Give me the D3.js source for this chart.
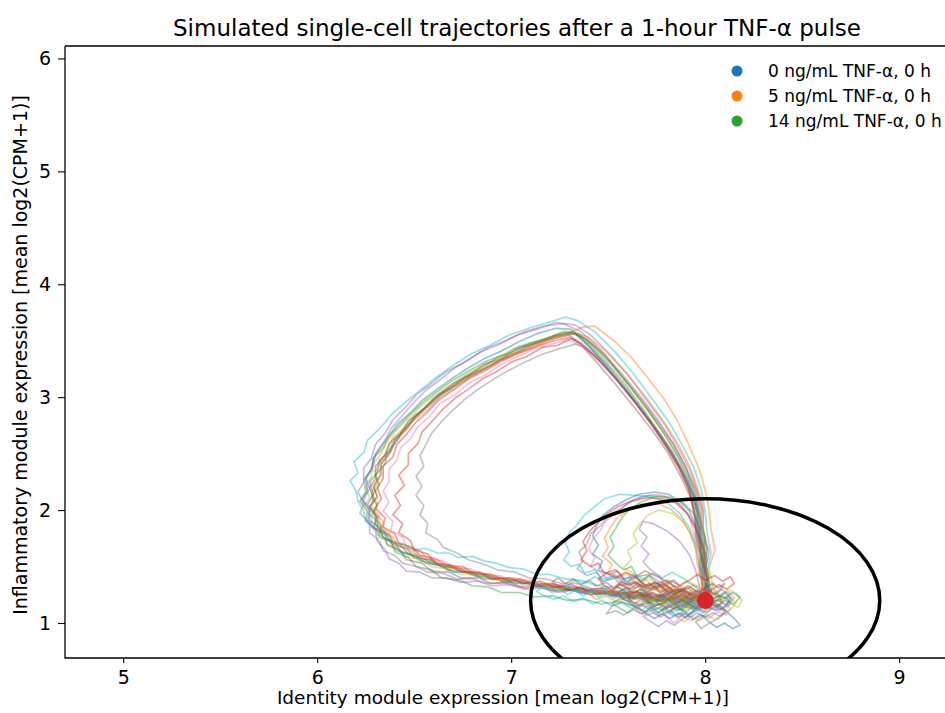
<!DOCTYPE html>
<html>
<head>
<meta charset="utf-8">
<script src="https://cdn.jsdelivr.net/npm/d3@7"></script>
<style>
  body { margin: 0; background: #fff; }
  text { font-family: "DejaVu Sans", sans-serif; fill: #000; }
</style>
</head>
<body>
<svg id="chart"></svg>
<script>
var titleText = "Simulated single-cell trajectories after a 1-hour TNF-\u03b1 pulse";
var xLabel = "Identity module expression [mean log2(CPM+1)]";
var yLabel = "Inflammatory module expression [mean log2(CPM+1)]";

var xTicks = [5, 6, 7, 8, 9];
var yTicks = [1, 2, 3, 4, 5, 6];

var legendLabels = ["0 ng/mL TNF-\u03b1, 0 h", "5 ng/mL TNF-\u03b1, 0 h", "14 ng/mL TNF-\u03b1, 0 h"];
var legendColors = ["#1f77b4", "#ff7f0e", "#2ca02c"];

var lineColors = ["#1f77b4", "#ff7f0e", "#2ca02c", "#d62728", "#9467bd", "#8c564b", "#e377c2", "#7f7f7f", "#bcbd22", "#17becf"];

// attractor (red dot) and basin circle, data units
var restState = [8.0, 1.2];
var basinRadius = 0.9;

// cells that take the big excursion
var bigLoopCells = [
  "8.01,1.19 8.03,1.28 7.99,1.40 8.01,1.56 7.98,1.73 7.97,1.91 7.95,2.08 7.91,2.26 7.85,2.45 7.78,2.64 7.69,2.85 7.60,3.06 7.50,3.27 7.40,3.45 7.33,3.56 7.26,3.55 7.17,3.51 7.07,3.44 6.99,3.36 6.90,3.29 6.81,3.20 6.73,3.12 6.64,3.02 6.58,2.93 6.51,2.83 6.46,2.72 6.40,2.63 6.37,2.52 6.32,2.44 6.31,2.33 6.27,2.25 6.29,2.14 6.26,2.05 6.30,1.97 6.30,1.88 6.35,1.81 6.37,1.74 6.43,1.69 6.47,1.61 6.54,1.58 6.60,1.52 6.68,1.50 6.75,1.45 6.83,1.44 6.90,1.39 6.99,1.39 7.06,1.35 7.15,1.35 7.22,1.31 7.31,1.32 7.39,1.28 7.47,1.29 7.55,1.25 7.63,1.27 7.71,1.22 7.79,1.24 7.86,1.19 7.93,1.22 7.99,1.18",
  "8.00,1.22 8.04,1.33 8.02,1.48 8.05,1.65 8.03,1.83 8.02,2.00 8.00,2.18 7.97,2.36 7.92,2.56 7.86,2.78 7.79,2.98 7.70,3.18 7.62,3.35 7.53,3.50 7.43,3.63 7.37,3.62 7.28,3.56 7.18,3.50 7.09,3.43 6.98,3.37 6.90,3.28 6.80,3.21 6.72,3.11 6.63,3.03 6.57,2.92 6.50,2.84 6.45,2.73 6.39,2.64 6.36,2.53 6.33,2.44 6.30,2.34 6.31,2.24 6.28,2.15 6.31,2.06 6.29,1.98 6.34,1.90 6.33,1.82 6.39,1.76 6.42,1.68 6.49,1.65 6.53,1.57 6.61,1.55 6.67,1.49 6.76,1.48 6.82,1.42 6.91,1.42 6.98,1.37 7.07,1.38 7.14,1.33 7.23,1.34 7.30,1.29 7.39,1.31 7.46,1.26 7.55,1.28 7.62,1.23 7.71,1.25 7.78,1.20 7.87,1.23 7.94,1.18",
  "7.99,1.17 8.01,1.30 7.98,1.45 7.99,1.62 7.96,1.80 7.96,1.98 7.93,2.15 7.89,2.33 7.83,2.52 7.75,2.72 7.67,2.92 7.58,3.13 7.48,3.33 7.39,3.49 7.32,3.58 7.24,3.56 7.14,3.50 7.04,3.45 6.95,3.37 6.86,3.31 6.77,3.22 6.69,3.14 6.61,3.04 6.55,2.96 6.48,2.85 6.43,2.76 6.37,2.65 6.34,2.55 6.29,2.46 6.28,2.35 6.24,2.27 6.25,2.16 6.22,2.08 6.26,1.99 6.25,1.91 6.30,1.84 6.32,1.76 6.38,1.72 6.41,1.64 6.48,1.61 6.53,1.55 6.61,1.53 6.67,1.47 6.76,1.46 6.82,1.41 6.90,1.41 6.97,1.36 7.06,1.37 7.13,1.32 7.21,1.33 7.29,1.29 7.37,1.30 7.45,1.25 7.53,1.27 7.61,1.22 7.70,1.24 7.78,1.19 7.87,1.22 7.95,1.17",
  "8.00,1.21 7.98,1.32 8.00,1.47 7.97,1.64 7.97,1.82 7.94,1.99 7.92,2.16 7.87,2.35 7.81,2.53 7.73,2.74 7.64,2.95 7.55,3.15 7.45,3.33 7.36,3.47 7.30,3.53 7.22,3.50 7.13,3.45 7.03,3.38 6.94,3.31 6.86,3.23 6.78,3.16 6.70,3.06 6.63,2.98 6.57,2.87 6.51,2.78 6.46,2.67 6.41,2.58 6.39,2.47 6.34,2.39 6.34,2.28 6.31,2.20 6.33,2.10 6.30,2.02 6.35,1.93 6.34,1.85 6.40,1.79 6.42,1.71 6.49,1.67 6.53,1.60 6.61,1.57 6.67,1.51 6.75,1.50 6.81,1.44 6.90,1.43 6.97,1.38 7.05,1.39 7.12,1.34 7.21,1.35 7.28,1.30 7.36,1.31 7.44,1.27 7.53,1.28 7.61,1.23 7.69,1.25 7.77,1.20 7.85,1.22 7.93,1.19",
  "8.01,1.20 8.02,1.31 8.00,1.46 8.02,1.63 7.99,1.81 7.99,1.99 7.96,2.17 7.92,2.36 7.86,2.56 7.79,2.76 7.70,2.97 7.61,3.18 7.51,3.38 7.41,3.55 7.33,3.64 7.23,3.66 7.13,3.60 7.03,3.55 6.93,3.46 6.84,3.40 6.75,3.30 6.66,3.22 6.58,3.11 6.51,3.02 6.45,2.90 6.39,2.80 6.35,2.68 6.30,2.58 6.28,2.46 6.24,2.37 6.24,2.25 6.21,2.16 6.24,2.06 6.22,1.97 6.27,1.89 6.27,1.80 6.32,1.73 6.34,1.64 6.40,1.60 6.44,1.53 6.51,1.50 6.57,1.45 6.65,1.44 6.72,1.39 6.80,1.39 6.88,1.35 6.96,1.36 7.04,1.32 7.12,1.33 7.20,1.29 7.29,1.30 7.37,1.26 7.46,1.28 7.54,1.23 7.63,1.25 7.71,1.21 7.80,1.23 7.88,1.19 7.96,1.21",
  "7.99,1.19 8.00,1.29 7.97,1.43 7.98,1.60 7.95,1.78 7.95,1.95 7.92,2.13 7.87,2.31 7.81,2.50 7.73,2.70 7.63,2.92 7.53,3.13 7.43,3.33 7.35,3.48 7.30,3.55 7.22,3.52 7.12,3.47 7.03,3.39 6.94,3.33 6.85,3.24 6.76,3.17 6.68,3.07 6.60,2.99 6.54,2.88 6.47,2.79 6.43,2.68 6.37,2.59 6.35,2.48 6.30,2.39 6.30,2.28 6.27,2.20 6.29,2.10 6.27,2.01 6.31,1.93 6.31,1.84 6.37,1.78 6.39,1.70 6.46,1.66 6.50,1.58 6.58,1.56 6.64,1.50 6.73,1.49 6.79,1.43 6.88,1.43 6.95,1.37 7.04,1.38 7.11,1.33 7.20,1.34 7.27,1.29 7.36,1.31 7.43,1.26 7.52,1.28 7.60,1.23 7.69,1.25 7.76,1.20 7.85,1.23 7.93,1.18",
  "8.00,1.18 8.02,1.30 7.99,1.44 8.00,1.61 7.97,1.79 7.97,1.97 7.94,2.14 7.89,2.32 7.83,2.51 7.75,2.71 7.66,2.92 7.56,3.12 7.46,3.31 7.37,3.45 7.29,3.51 7.21,3.47 7.12,3.43 7.02,3.35 6.94,3.28 6.86,3.19 6.78,3.12 6.71,3.02 6.63,2.94 6.58,2.83 6.52,2.74 6.48,2.63 6.43,2.55 6.41,2.44 6.37,2.36 6.37,2.25 6.34,2.17 6.37,2.07 6.34,1.99 6.39,1.90 6.38,1.82 6.44,1.76 6.46,1.68 6.53,1.64 6.57,1.57 6.65,1.55 6.71,1.49 6.79,1.48 6.86,1.42 6.94,1.42 7.01,1.37 7.10,1.38 7.17,1.33 7.26,1.34 7.33,1.29 7.42,1.30 7.50,1.26 7.58,1.27 7.66,1.22 7.75,1.24 7.83,1.20 7.91,1.22 7.98,1.19",
  "7.99,1.21 8.01,1.33 7.98,1.48 7.99,1.65 7.96,1.83 7.95,2.00 7.92,2.18 7.87,2.37 7.80,2.56 7.72,2.77 7.63,2.97 7.54,3.17 7.45,3.34 7.38,3.44 7.33,3.47 7.25,3.43 7.16,3.38 7.07,3.31 6.99,3.24 6.91,3.16 6.83,3.07 6.76,2.98 6.69,2.87 6.64,2.78 6.59,2.68 6.56,2.58 6.53,2.48 6.55,2.39 6.51,2.30 6.54,2.21 6.51,2.13 6.55,2.04 6.53,1.96 6.57,1.88 6.56,1.80 6.62,1.74 6.65,1.67 6.72,1.62 6.78,1.56 6.86,1.52 6.93,1.47 7.02,1.45 7.09,1.40 7.18,1.39 7.26,1.35 7.34,1.35 7.42,1.30 7.51,1.31 7.59,1.26 7.68,1.27 7.76,1.22 7.84,1.24 7.92,1.20",
  "8.00,1.20 8.01,1.31 7.98,1.46 8.00,1.63 7.97,1.81 7.97,1.98 7.95,2.16 7.90,2.35 7.84,2.54 7.76,2.75 7.67,2.96 7.58,3.16 7.48,3.36 7.39,3.51 7.32,3.58 7.23,3.55 7.13,3.49 7.03,3.43 6.94,3.35 6.85,3.28 6.76,3.19 6.68,3.10 6.60,3.01 6.53,2.91 6.47,2.81 6.41,2.71 6.36,2.61 6.33,2.50 6.29,2.41 6.28,2.30 6.25,2.21 6.27,2.11 6.24,2.03 6.28,1.94 6.28,1.85 6.33,1.79 6.36,1.70 6.42,1.66 6.46,1.59 6.54,1.56 6.59,1.50 6.68,1.48 6.74,1.43 6.83,1.43 6.90,1.38 6.99,1.38 7.06,1.34 7.15,1.35 7.22,1.30 7.31,1.31 7.39,1.27 7.47,1.28 7.56,1.24 7.64,1.26 7.72,1.21 7.81,1.23 7.89,1.19 7.97,1.21",
  "8.02,1.19 8.03,1.30 8.01,1.45 8.03,1.62 8.01,1.80 8.00,1.99 7.98,2.18 7.94,2.38 7.88,2.58 7.81,2.79 7.72,3.00 7.63,3.21 7.53,3.41 7.43,3.58 7.34,3.68 7.28,3.71 7.19,3.66 7.09,3.61 6.99,3.55 6.89,3.46 6.79,3.38 6.70,3.28 6.61,3.17 6.53,3.06 6.45,2.95 6.38,2.84 6.32,2.72 6.26,2.62 6.24,2.51 6.19,2.43 6.21,2.33 6.17,2.26 6.20,2.17 6.21,2.08 6.24,1.99 6.25,1.90 6.30,1.83 6.35,1.79 6.38,1.71 6.44,1.70 6.50,1.65 6.56,1.66 6.62,1.62 6.68,1.62 6.73,1.58 6.80,1.59 6.86,1.55 6.92,1.53 6.99,1.49 7.06,1.48 7.13,1.43 7.20,1.43 7.28,1.39 7.36,1.38 7.44,1.33 7.53,1.32 7.61,1.28 7.70,1.27 7.78,1.23 7.86,1.24 7.94,1.20",
  "8.00,1.17 8.02,1.29 7.98,1.43 8.00,1.60 7.97,1.78 7.96,1.96 7.94,2.13 7.89,2.31 7.83,2.50 7.75,2.70 7.66,2.91 7.56,3.12 7.47,3.32 7.38,3.49 7.31,3.60 7.23,3.61 7.13,3.56 7.04,3.49 6.95,3.41 6.86,3.34 6.77,3.25 6.69,3.16 6.61,3.06 6.54,2.97 6.48,2.86 6.42,2.77 6.37,2.66 6.33,2.56 6.29,2.46 6.28,2.36 6.25,2.27 6.26,2.17 6.23,2.09 6.27,2.00 6.27,1.91 6.32,1.84 6.34,1.76 6.40,1.71 6.43,1.63 6.51,1.59 6.56,1.53 6.64,1.51 6.70,1.45 6.79,1.45 6.86,1.39 6.95,1.40 7.02,1.35 7.11,1.36 7.18,1.31 7.27,1.32 7.35,1.27 7.43,1.29 7.51,1.24 7.60,1.26 7.68,1.21 7.77,1.23 7.85,1.18 7.93,1.21",
  "7.99,1.22 8.01,1.34 7.99,1.49 8.01,1.66 7.99,1.84 7.99,2.02 7.96,2.20 7.92,2.39 7.86,2.59 7.78,2.80 7.69,3.01 7.59,3.22 7.49,3.40 7.40,3.53 7.33,3.57 7.24,3.53 7.15,3.47 7.05,3.40 6.96,3.34 6.87,3.25 6.79,3.18 6.71,3.08 6.63,3.00 6.57,2.89 6.50,2.80 6.45,2.69 6.40,2.60 6.37,2.49 6.33,2.41 6.32,2.30 6.29,2.22 6.31,2.12 6.28,2.04 6.32,1.95 6.32,1.87 6.37,1.80 6.39,1.72 6.46,1.68 6.50,1.61 6.57,1.58 6.63,1.52 6.71,1.50 6.78,1.45 6.86,1.44 6.93,1.39 7.02,1.40 7.09,1.35 7.18,1.35 7.25,1.31 7.34,1.32 7.42,1.27 7.50,1.29 7.58,1.24 7.67,1.26 7.75,1.21 7.84,1.23 7.92,1.19",
  "8.02,1.16 8.00,1.28 8.02,1.42 7.99,1.58 8.00,1.76 7.97,1.94 7.95,2.11 7.91,2.29 7.86,2.47 7.79,2.67 7.71,2.87 7.62,3.08 7.52,3.29 7.42,3.46 7.35,3.56 7.27,3.58 7.19,3.52 7.10,3.48 7.01,3.40 6.93,3.35 6.84,3.25 6.77,3.19 6.68,3.08 6.62,3.01 6.55,2.90 6.50,2.82 6.44,2.70 6.41,2.61 6.36,2.50 6.35,2.41 6.30,2.31 6.32,2.22 6.28,2.12 6.31,2.04 6.28,1.95 6.33,1.87 6.32,1.78 6.38,1.72 6.40,1.63 6.47,1.58 6.51,1.50 6.59,1.47 6.64,1.40 6.73,1.38 6.80,1.33 6.88,1.32 6.95,1.27 7.04,1.27 7.12,1.23 7.21,1.24 7.29,1.20 7.38,1.21 7.46,1.17 7.55,1.19 7.63,1.15 7.72,1.18 7.80,1.14 7.88,1.18 7.96,1.15",
  "7.99,1.23 8.00,1.36 7.97,1.51 7.98,1.68 7.95,1.85 7.94,2.03 7.91,2.21 7.86,2.40 7.79,2.60 7.71,2.80 7.62,3.00 7.52,3.20 7.43,3.37 7.36,3.48 7.31,3.52 7.24,3.46 7.16,3.44 7.08,3.36 7.00,3.31 6.92,3.22 6.85,3.16 6.77,3.06 6.71,2.99 6.64,2.88 6.60,2.80 6.54,2.69 6.52,2.59 6.47,2.50 6.47,2.40 6.42,2.31 6.45,2.22 6.40,2.13 6.43,2.04 6.39,1.96 6.44,1.88 6.42,1.80 6.48,1.73 6.50,1.65 6.57,1.61 6.61,1.53 6.69,1.51 6.75,1.45 6.84,1.45 6.90,1.39 6.99,1.40 7.06,1.35 7.15,1.37 7.22,1.32 7.31,1.34 7.38,1.29 7.47,1.31 7.55,1.26 7.64,1.28 7.72,1.23 7.81,1.25 7.89,1.21 7.96,1.23",
  "8.00,1.19 8.01,1.32 7.99,1.47 8.00,1.64 7.98,1.82 7.97,2.00 7.94,2.19 7.90,2.38 7.84,2.58 7.76,2.79 7.67,3.00 7.57,3.21 7.46,3.42 7.36,3.58 7.27,3.65 7.17,3.63 7.07,3.58 6.97,3.50 6.88,3.44 6.79,3.34 6.71,3.26 6.63,3.15 6.56,3.06 6.49,2.94 6.44,2.84 6.38,2.72 6.35,2.62 6.30,2.50 6.29,2.40 6.25,2.29 6.27,2.19 6.24,2.09 6.27,2.00 6.26,1.90 6.30,1.82 6.31,1.72 6.35,1.65 6.37,1.57 6.42,1.53 6.46,1.46 6.53,1.45 6.59,1.40 6.67,1.40 6.74,1.36 6.83,1.37 6.90,1.33 6.99,1.34 7.07,1.30 7.16,1.31 7.24,1.27 7.33,1.29 7.41,1.25 7.50,1.27 7.58,1.22 7.67,1.25 7.75,1.20 7.84,1.23 7.92,1.19",
  "8.01,1.21 8.02,1.33 8.00,1.48 8.01,1.65 7.98,1.83 7.98,2.01 7.95,2.19 7.90,2.38 7.84,2.57 7.76,2.77 7.67,2.98 7.57,3.19 7.48,3.38 7.39,3.51 7.31,3.57 7.22,3.54 7.13,3.48 7.03,3.43 6.95,3.34 6.86,3.29 6.78,3.19 6.70,3.12 6.62,3.01 6.57,2.93 6.50,2.81 6.46,2.73 6.40,2.61 6.38,2.52 6.33,2.41 6.33,2.31 6.29,2.21 6.31,2.12 6.27,2.03 6.31,1.94 6.29,1.85 6.35,1.78 6.36,1.69 6.43,1.64 6.46,1.56 6.54,1.53 6.59,1.46 6.68,1.45 6.74,1.40 6.83,1.40 6.90,1.35 6.99,1.36 7.07,1.31 7.16,1.33 7.24,1.28 7.33,1.30 7.41,1.25 7.50,1.27 7.58,1.22 7.67,1.24 7.75,1.19 7.84,1.22 7.92,1.18"
];

// cells that only make a small loop near the basin
var smallLoopCells = [
  "7.98,1.24 7.99,1.36 7.97,1.50 7.96,1.65 7.94,1.80 7.92,1.93 7.88,2.04 7.82,2.11 7.75,2.14 7.67,2.12 7.60,2.06 7.55,1.98 7.49,1.91 7.46,1.82 7.42,1.74 7.40,1.65 7.43,1.58 7.41,1.50 7.46,1.45 7.50,1.38 7.56,1.41 7.60,1.34 7.66,1.37 7.70,1.30 7.76,1.33 7.81,1.26 7.87,1.28 7.92,1.22 7.97,1.25",
  "8.00,1.23 7.98,1.37 7.99,1.52 7.96,1.68 7.95,1.83 7.91,1.96 7.86,2.06 7.79,2.12 7.71,2.13 7.63,2.09 7.57,2.02 7.50,1.95 7.46,1.86 7.41,1.79 7.39,1.70 7.35,1.63 7.37,1.55 7.34,1.48 7.39,1.42 7.44,1.45 7.47,1.37 7.53,1.40 7.57,1.33 7.63,1.36 7.68,1.29 7.74,1.32 7.80,1.26 7.86,1.29 7.91,1.22 7.96,1.24",
  "7.99,1.20 8.00,1.34 7.98,1.49 7.97,1.64 7.93,1.78 7.89,1.89 7.83,1.97 7.76,2.00 7.70,1.95 7.66,1.87 7.63,1.79 7.65,1.71 7.60,1.64 7.62,1.56 7.58,1.49 7.63,1.44 7.66,1.37 7.71,1.40 7.75,1.32 7.80,1.35 7.84,1.27 7.90,1.29 7.95,1.22",
  "7.98,1.22 8.00,1.36 7.97,1.52 7.95,1.68 7.92,1.84 7.87,1.97 7.80,2.07 7.72,2.12 7.64,2.13 7.56,2.14 7.48,2.10 7.43,2.03 7.38,1.96 7.34,1.87 7.30,1.80 7.28,1.71 7.30,1.63 7.27,1.56 7.31,1.50 7.35,1.52 7.38,1.44 7.43,1.47 7.47,1.39 7.53,1.42 7.58,1.35 7.64,1.37 7.70,1.30 7.76,1.33 7.82,1.25 7.88,1.28 7.94,1.22",
  "8.00,1.25 8.01,1.39 7.98,1.55 7.98,1.71 7.95,1.86 7.92,1.99 7.87,2.08 7.81,2.14 7.74,2.16 7.66,2.14 7.59,2.09 7.53,2.03 7.47,1.95 7.44,1.86 7.42,1.77 7.45,1.69 7.42,1.61 7.47,1.55 7.45,1.47 7.51,1.43 7.55,1.46 7.59,1.37 7.65,1.40 7.70,1.32 7.76,1.35 7.82,1.27 7.88,1.30 7.94,1.23",
  "7.97,1.21 7.99,1.35 7.96,1.51 7.95,1.66 7.92,1.80 7.88,1.92 7.82,2.01 7.75,2.06 7.67,2.05 7.60,2.00 7.54,1.92 7.51,1.84 7.48,1.75 7.50,1.67 7.47,1.59 7.52,1.52 7.50,1.45 7.56,1.41 7.60,1.44 7.64,1.35 7.70,1.38 7.74,1.30 7.80,1.33 7.85,1.25 7.91,1.27 7.96,1.21",
  "8.01,1.22 8.02,1.37 8.00,1.53 7.99,1.69 7.97,1.84 7.94,1.97 7.89,2.06 7.82,2.11 7.74,2.12 7.67,2.07 7.61,2.01 7.57,1.93 7.54,1.84 7.51,1.76 7.53,1.68 7.50,1.60 7.54,1.53 7.58,1.47 7.62,1.50 7.65,1.41 7.71,1.43 7.75,1.35 7.81,1.38 7.85,1.29 7.91,1.31 7.96,1.24",
  "7.99,1.24 8.01,1.39 7.99,1.55 7.97,1.70 7.95,1.85 7.91,1.97 7.85,2.06 7.78,2.10 7.70,2.11 7.62,2.08 7.55,2.03 7.49,1.96 7.44,1.88 7.40,1.80 7.37,1.72 7.39,1.64 7.36,1.56 7.41,1.50 7.45,1.53 7.48,1.44 7.54,1.47 7.58,1.39 7.64,1.41 7.69,1.33 7.75,1.36 7.80,1.28 7.86,1.30 7.92,1.23 7.97,1.26",
  "7.98,1.20 7.97,1.33 7.95,1.47 7.92,1.60 7.87,1.72 7.80,1.82 7.73,1.88 7.68,1.90 7.66,1.83 7.70,1.76 7.67,1.68 7.71,1.61 7.68,1.54 7.72,1.47 7.76,1.42 7.79,1.35 7.84,1.38 7.88,1.30 7.93,1.26"
];

// cells that stay near the rest state
var restingCells = [
  "7.98,1.21 7.93,1.26 7.88,1.22 7.83,1.28 7.79,1.24 7.74,1.30 7.70,1.27 7.66,1.33 7.62,1.29 7.57,1.35 7.53,1.31 7.49,1.36 7.44,1.33 7.40,1.38 7.36,1.34 7.32,1.39 7.28,1.35 7.24,1.40 7.21,1.36 7.26,1.32 7.31,1.29 7.36,1.32 7.41,1.27 7.47,1.29 7.52,1.24 7.58,1.27 7.64,1.21 7.70,1.24 7.76,1.19 7.82,1.22 7.88,1.17 7.94,1.20 8.00,1.16",
  "8.01,1.19 8.05,1.14 8.09,1.19 8.13,1.13 8.11,1.07 8.06,1.10 8.02,1.04 7.97,1.08 7.93,1.02 7.88,1.06 7.84,1.00 7.80,1.05 7.78,1.11 7.83,1.15 7.79,1.20 7.84,1.24 7.89,1.21 7.94,1.26 7.98,1.22 8.03,1.27 8.07,1.23 8.12,1.28 8.15,1.22 8.11,1.17 8.06,1.20 8.02,1.15 7.97,1.18",
  "7.99,1.18 7.95,1.13 7.90,1.17 7.86,1.11 7.81,1.15 7.76,1.09 7.72,1.13 7.67,1.08 7.63,1.12 7.58,1.07 7.54,1.11 7.49,1.08 7.52,1.15 7.57,1.19 7.62,1.16 7.67,1.21 7.72,1.18 7.77,1.23 7.82,1.20 7.87,1.25 7.92,1.21 7.97,1.26 8.02,1.22 8.06,1.16 8.10,1.10 8.07,1.04 8.02,1.00 7.98,0.95 7.95,1.01 7.99,1.06 8.03,1.12",
  "8.00,1.22 8.04,1.28 8.08,1.24 8.12,1.30 8.16,1.26 8.19,1.20 8.17,1.14 8.13,1.17 8.09,1.11 8.05,1.15 8.01,1.09 7.96,1.13 7.91,1.08 7.87,1.13 7.83,1.18 7.78,1.15 7.74,1.21 7.69,1.18 7.65,1.24 7.61,1.21 7.56,1.27 7.60,1.32 7.65,1.28 7.70,1.34 7.75,1.30 7.80,1.36 7.85,1.31 7.90,1.37 7.95,1.32 8.00,1.37 8.05,1.33",
  "7.97,1.23 7.92,1.19 7.87,1.24 7.82,1.19 7.77,1.25 7.72,1.21 7.67,1.27 7.62,1.23 7.57,1.29 7.52,1.25 7.47,1.31 7.42,1.27 7.37,1.32 7.33,1.28 7.29,1.33 7.33,1.38 7.38,1.35 7.43,1.41 7.48,1.37 7.53,1.42 7.58,1.38 7.63,1.43 7.68,1.39 7.73,1.44 7.78,1.40 7.83,1.45 7.88,1.40 7.93,1.35 7.97,1.29",
  "8.02,1.20 8.07,1.16 8.11,1.10 8.15,1.04 8.18,0.98 8.14,0.95 8.10,1.00 8.06,0.96 8.02,1.01 7.98,1.07 7.94,1.03 7.90,1.09 7.86,1.05 7.82,1.11 7.87,1.16 7.92,1.13 7.96,1.18 8.00,1.14 8.04,1.19",
  "7.98,1.20 7.94,1.24 7.90,1.20 7.86,1.25 7.82,1.21 7.78,1.26 7.73,1.22 7.69,1.27 7.65,1.23 7.61,1.28 7.57,1.24 7.53,1.29 7.48,1.25 7.44,1.30 7.40,1.26 7.44,1.21 7.49,1.24 7.54,1.19 7.59,1.22 7.64,1.17 7.69,1.20 7.74,1.15 7.79,1.18 7.84,1.13 7.89,1.17 7.94,1.12 7.99,1.16 8.04,1.12",
  "8.01,1.21 8.05,1.26 8.10,1.22 8.14,1.27 8.18,1.23 8.15,1.17 8.10,1.20 8.06,1.15 8.01,1.18 7.96,1.13 7.92,1.17 7.87,1.12 7.83,1.16 7.78,1.11 7.73,1.15 7.69,1.10 7.64,1.14 7.60,1.09 7.56,1.13 7.52,1.17 7.56,1.22 7.61,1.19 7.66,1.24 7.71,1.20 7.76,1.25 7.81,1.22 7.86,1.27 7.91,1.23 7.96,1.27",
  "7.99,1.23 8.03,1.29 8.07,1.34 8.11,1.30 8.15,1.35 8.13,1.41 8.09,1.37 8.05,1.42 8.00,1.38 7.96,1.43 7.92,1.38 7.87,1.33 7.83,1.37 7.78,1.32 7.74,1.36 7.69,1.31 7.65,1.35 7.61,1.30 7.56,1.34 7.52,1.29 7.48,1.33 7.45,1.39 7.49,1.44 7.54,1.40 7.59,1.45 7.64,1.41 7.69,1.46 7.74,1.42 7.79,1.38 7.84,1.33 7.89,1.28 7.94,1.24",
  "8.00,1.18 7.96,1.14 7.92,1.08 7.88,1.03 7.84,0.98 7.80,1.02 7.76,0.97 7.72,1.01 7.68,1.06 7.73,1.09 7.77,1.05 7.81,1.10 7.86,1.14 7.90,1.10 7.95,1.15 7.99,1.11 8.04,1.16 8.08,1.12 8.13,1.17 8.11,1.23 8.06,1.19 8.02,1.24 7.97,1.20",
  "7.98,1.22 7.95,1.27 7.91,1.23 7.88,1.29 7.84,1.25 7.81,1.31 7.77,1.27 7.74,1.32 7.70,1.28 7.67,1.23 7.71,1.19 7.75,1.23 7.78,1.18 7.82,1.22 7.85,1.17 7.89,1.21 7.92,1.16 7.96,1.20 7.99,1.15 8.03,1.19 8.06,1.14 8.09,1.18 8.07,1.24 8.03,1.21 8.00,1.26",
  "8.01,1.18 7.97,1.15 7.94,1.19 7.90,1.14 7.86,1.18 7.83,1.13 7.79,1.17 7.75,1.12 7.71,1.16 7.67,1.11 7.63,1.15 7.60,1.20 7.64,1.24 7.68,1.20 7.72,1.25 7.76,1.21 7.80,1.26 7.84,1.22 7.88,1.27 7.92,1.23 7.96,1.28 8.00,1.24",
  "7.99,1.21 8.03,1.17 8.07,1.21 8.10,1.16 8.14,1.20 8.12,1.26 8.08,1.30 8.04,1.26 8.00,1.31 7.96,1.27 7.92,1.32 7.88,1.28 7.84,1.33 7.80,1.29 7.76,1.34 7.72,1.30 7.68,1.35 7.64,1.31 7.60,1.36 7.63,1.41 7.67,1.37 7.71,1.42 7.75,1.38 7.79,1.34 7.83,1.30 7.87,1.26 7.91,1.22 7.95,1.18",
  "8.00,1.20 8.04,1.24 8.08,1.19 8.12,1.23 8.16,1.18 8.13,1.12 8.09,1.08 8.05,1.03 8.01,1.07 7.97,1.02 7.93,1.06 7.89,1.01 7.85,1.06 7.89,1.11 7.93,1.15 7.89,1.19 7.85,1.15 7.81,1.20 7.77,1.16 7.73,1.21 7.77,1.26 7.81,1.23 7.85,1.28 7.89,1.24 7.93,1.29 7.97,1.25",
  "7.97,1.19 7.93,1.23 7.89,1.18 7.85,1.22 7.81,1.17 7.77,1.21 7.73,1.16 7.69,1.20 7.65,1.25 7.61,1.21 7.57,1.26 7.53,1.22 7.49,1.27 7.45,1.23 7.41,1.28 7.37,1.24 7.33,1.29 7.29,1.25 7.25,1.30 7.21,1.27 7.17,1.32 7.13,1.28 7.17,1.24 7.22,1.21 7.27,1.24 7.32,1.19 7.37,1.22 7.42,1.17 7.47,1.20 7.52,1.15 7.57,1.18 7.62,1.13 7.67,1.16 7.72,1.11 7.77,1.14 7.82,1.09 7.87,1.12 7.92,1.08 7.97,1.12 8.01,1.16",
  "8.02,1.19 8.06,1.23 8.10,1.27 8.13,1.22 8.11,1.16 8.07,1.11 8.03,1.14 7.99,1.09 7.95,1.13 7.91,1.18 7.87,1.14 7.83,1.19 7.79,1.24 7.75,1.20 7.71,1.25 7.67,1.30 7.63,1.26 7.59,1.31 7.55,1.27 7.58,1.21 7.62,1.17 7.66,1.13 7.70,1.08 7.74,1.04 7.78,1.08 7.82,1.04 7.86,1.09 7.90,1.05 7.94,1.10 7.98,1.14",
  "7.96,1.20 7.93,1.24 7.90,1.19 7.87,1.23 7.84,1.18 7.81,1.23 7.78,1.19 7.75,1.24 7.72,1.20 7.69,1.25 7.66,1.21 7.63,1.26 7.66,1.30 7.70,1.27 7.73,1.31 7.77,1.28 7.80,1.32 7.84,1.29 7.87,1.33 7.91,1.30 7.94,1.34 7.98,1.30 8.01,1.26 8.04,1.30 8.07,1.26",
  "8.03,1.17 8.00,1.13 7.97,1.17 7.94,1.12 7.91,1.16 7.88,1.11 7.85,1.15 7.82,1.10 7.79,1.14 7.76,1.09 7.73,1.13 7.70,1.17 7.74,1.20 7.77,1.16 7.81,1.20 7.84,1.16 7.88,1.21 7.91,1.17 7.95,1.22 7.98,1.18 8.02,1.23 8.05,1.19 8.09,1.24 8.12,1.20",
  "7.99,1.25 7.96,1.29 7.92,1.26 7.89,1.30 7.85,1.27 7.82,1.31 7.78,1.35 7.75,1.31 7.71,1.35 7.68,1.32 7.64,1.36 7.61,1.33 7.57,1.37 7.54,1.33 7.58,1.29 7.61,1.25 7.65,1.28 7.69,1.24 7.72,1.27 7.76,1.23 7.80,1.26 7.84,1.22 7.88,1.25 7.92,1.21 7.96,1.24",
  "8.01,1.15 8.05,1.11 8.08,1.15 8.11,1.10 8.08,1.06 8.04,1.09 8.00,1.05 7.96,1.09 7.92,1.05 7.88,1.09 7.84,1.06 7.80,1.10 7.76,1.07 7.72,1.11 7.68,1.08 7.64,1.12 7.68,1.16 7.72,1.13 7.76,1.17 7.80,1.14 7.84,1.18 7.88,1.15 7.92,1.19 7.96,1.16 8.00,1.20",
  "7.97,1.27 8.00,1.31 8.04,1.35 8.07,1.31 8.10,1.35 8.08,1.29 8.05,1.25 8.02,1.29 7.98,1.25 7.95,1.29 7.91,1.33 7.88,1.29 7.84,1.25 7.80,1.28 7.77,1.24 7.73,1.27 7.70,1.23 7.66,1.26 7.63,1.22 7.59,1.25 7.62,1.19 7.66,1.16 7.70,1.19 7.74,1.15 7.78,1.18"
];

function parseTrack(str) {
  return str.split(" ").map(function(p) {
    var v = p.split(",");
    return [+v[0], +v[1]];
  });
}

var width = 945,
    height = 713;

var plotLeft = 65, plotRight = 969, plotTop = 46, plotBottom = 658;

var svg = d3.select("#chart")
  .attr("width", width)
  .attr("height", height);

var x = d3.scaleLinear().domain([4.70, 9.36]).range([plotLeft, plotRight]);
var y = d3.scaleLinear().domain([0.69, 6.11]).range([plotBottom, plotTop]);

svg.append("defs").append("clipPath")
  .attr("id", "plotclip")
.append("rect")
  .attr("x", plotLeft)
  .attr("y", plotTop)
  .attr("width", plotRight - plotLeft)
  .attr("height", plotBottom - plotTop);

var plot = svg.append("g").attr("clip-path", "url(#plotclip)");

var tracks = bigLoopCells.concat(smallLoopCells).concat(restingCells).map(parseTrack);

var line = d3.line()
  .x(function(d) { return x(d[0]); })
  .y(function(d) { return y(d[1]); });

plot.append("g").selectAll("path")
  .data(tracks)
.enter().append("path")
  .attr("d", line)
  .attr("fill", "none")
  .attr("stroke", function(d, i) { return lineColors[i % lineColors.length]; })
  .attr("stroke-opacity", 0.45)
  .attr("stroke-width", 1.7)
  .attr("stroke-linejoin", "round");

// basin of attraction
plot.append("ellipse")
  .attr("cx", x(restState[0]))
  .attr("cy", y(restState[1]))
  .attr("rx", x(restState[0] + basinRadius) - x(restState[0]))
  .attr("ry", y(restState[1]) - y(restState[1] + basinRadius))
  .attr("fill", "none")
  .attr("stroke", "#000")
  .attr("stroke-width", 3.5);

plot.append("circle")
  .attr("cx", x(restState[0]))
  .attr("cy", y(restState[1]))
  .attr("r", 8.5)
  .attr("fill", "#d62728");

// axes
var xAxis = svg.append("g")
  .attr("transform", "translate(0," + plotBottom + ")")
  .call(d3.axisBottom(x).tickValues(xTicks).tickSize(5).tickPadding(8).tickFormat(d3.format("d")));

var yAxis = svg.append("g")
  .attr("transform", "translate(" + plotLeft + ",0)")
  .call(d3.axisLeft(y).tickValues(yTicks).tickSize(7).tickPadding(7).tickFormat(d3.format("d")));

[xAxis, yAxis].forEach(function(a) {
  a.select(".domain").remove();
  a.selectAll(".tick line").attr("stroke", "#000").attr("stroke-width", 1.1);
  a.selectAll("text").attr("font-size", 19).attr("font-family", "DejaVu Sans").attr("fill", "#000");
});

// spines
svg.append("path")
  .attr("d", "M" + plotLeft + "," + plotTop + "V" + plotBottom + "H" + plotRight + "M" + plotLeft + "," + plotTop + "H" + plotRight)
  .attr("fill", "none")
  .attr("stroke", "#000")
  .attr("stroke-width", 1.3);

svg.append("text")
  .attr("x", 517)
  .attr("y", 36)
  .attr("text-anchor", "middle")
  .attr("font-size", 23)
  .text(titleText);

svg.append("text")
  .attr("x", 503)
  .attr("y", 704)
  .attr("text-anchor", "middle")
  .attr("font-size", 18.5)
  .text(xLabel);

svg.append("text")
  .attr("transform", "translate(27," + 355 + ") rotate(-90)")
  .attr("text-anchor", "middle")
  .attr("font-size", 19)
  .text(yLabel);

// legend
var legend = svg.append("g").selectAll("g")
  .data(legendLabels)
.enter().append("g")
  .attr("transform", function(d, i) { return "translate(737," + (71 + i * 25) + ")"; });

legend.append("circle")
  .attr("r", 5.5)
  .attr("fill", function(d, i) { return legendColors[i]; });

legend.append("text")
  .attr("x", 31)
  .attr("y", 6)
  .attr("font-size", 17)
  .text(function(d) { return d; });
</script>
</body>
</html>
